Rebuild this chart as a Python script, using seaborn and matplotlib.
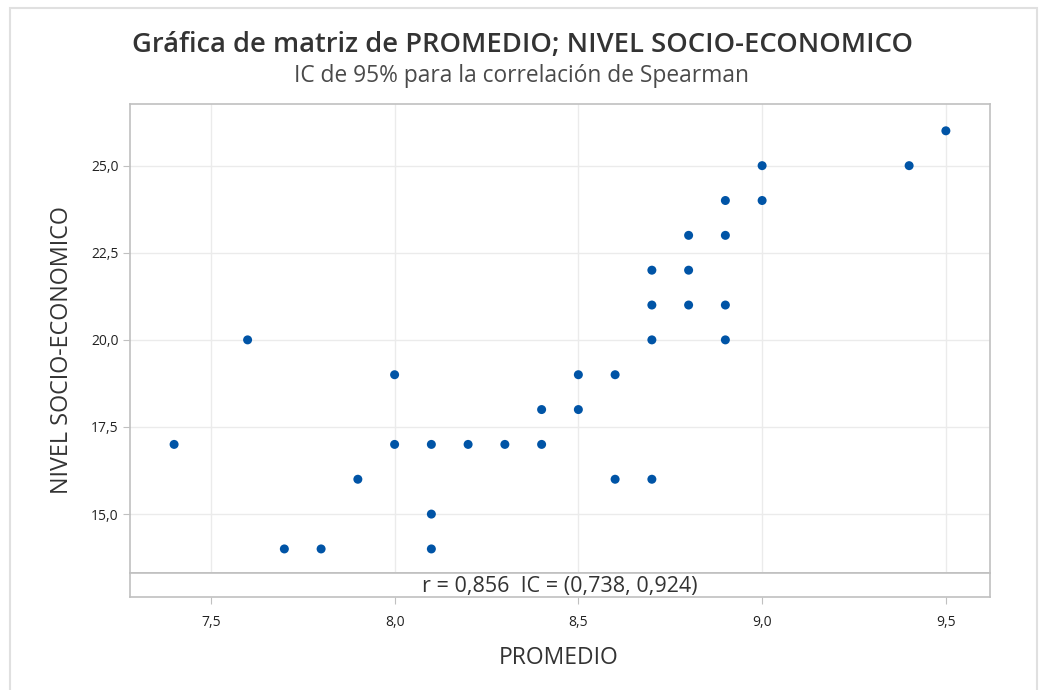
import matplotlib
matplotlib.use("Agg")
import matplotlib.pyplot as plt
import seaborn as sns
import pandas as pd
from matplotlib.ticker import FuncFormatter
from matplotlib.patches import Rectangle

# datos
promedio = [7.4, 7.6, 7.7, 7.8, 7.9, 8.0, 8.0, 8.1, 8.1, 8.1, 8.2, 8.3, 8.4, 8.4,
            8.5, 8.5, 8.6, 8.6, 8.7, 8.7, 8.7, 8.7, 8.8, 8.8, 8.8, 8.9, 8.9, 8.9,
            8.9, 9.0, 9.0, 9.4, 9.5]
nivel = [17, 20, 14, 14, 16, 19, 17, 17, 15, 14, 17, 17, 18, 17,
         19, 18, 19, 16, 22, 21, 20, 16, 23, 22, 21, 24, 23, 21,
         20, 25, 24, 25, 26]
x_ticks = [7.5, 8.0, 8.5, 9.0, 9.5]
y_ticks = [15.0, 17.5, 20.0, 22.5, 25.0]
stats_text = "r = 0,856  IC = (0,738, 0,924)"

df = pd.DataFrame({"PROMEDIO": promedio, "NIVEL SOCIO-ECONOMICO": nivel})

sns.set_style("white")
plt.rcParams["font.family"] = ["Open Sans", "DejaVu Sans"]

txt = "#333333"
frame = "#c0c0c0"
grid = "#ebebeb"
comma = FuncFormatter(lambda v, p: f"{v:.1f}".replace(".", ","))

fig = plt.figure(figsize=(10.4, 6.9), dpi=100)
fig.patches.append(Rectangle((10 / 1040, -0.05), 1027 / 1040, 1.05 - 8 / 690,
                             transform=fig.transFigure, fill=False,
                             edgecolor="#e0e0e0", linewidth=1.5))

ax = fig.add_axes([0.125, 0.1696, 0.8269, 0.6797])
strip = fig.add_axes([0.125, 0.1348, 0.8269, 0.0348], sharex=ax)

sns.scatterplot(data=df, x="PROMEDIO", y="NIVEL SOCIO-ECONOMICO", ax=ax,
                color="#0054a6", s=42, edgecolor="none", zorder=3)

ax.set_xlim(7.28, 9.62)
ax.set_ylim(13.31, 26.77)
ax.set_xticks(x_ticks)
ax.set_yticks(y_ticks)
ax.yaxis.set_major_formatter(comma)
ax.grid(True, color=grid, linewidth=1)
ax.tick_params(axis="x", bottom=False, labelbottom=False)
ax.tick_params(axis="y", left=True, length=5, color=frame, labelsize=10,
               labelcolor="#222222", pad=3)
ax.set_xlabel("")
ax.set_ylabel("")
for s in ax.spines.values():
    s.set_color(frame)
    s.set_linewidth(1.2)

strip.set_yticks([])
strip.xaxis.set_major_formatter(comma)
strip.tick_params(axis="x", bottom=True, length=5, color=frame, labelsize=10,
                  labelcolor="#222222", pad=8)
for s in strip.spines.values():
    s.set_color(frame)
    s.set_linewidth(1.2)
strip.text(0.5, 0.45, stats_text, transform=strip.transAxes, ha="center",
           va="center", fontsize=15.5, color=txt)

fig.text(0.5375, 1 - 658 / 690, "PROMEDIO", ha="center", va="center",
         fontsize=16.5, color=txt)
fig.text(62 / 1040, 1 - 350 / 690, "NIVEL SOCIO-ECONOMICO", rotation=90,
         ha="center", va="center", fontsize=16.8, color=txt)
fig.text(522 / 1040, 1 - 45 / 690,
         "Gráfica de matriz de PROMEDIO; NIVEL SOCIO-ECONOMICO",
         ha="center", va="center", fontsize=19.7, fontweight="semibold",
         color=txt)
fig.text(521 / 1040, 1 - 76 / 690, "IC de 95% para la correlación de Spearman",
         ha="center", va="center", fontsize=16.4, color="#4a4a4a")

fig.savefig("out.png", dpi=100, facecolor="white")
